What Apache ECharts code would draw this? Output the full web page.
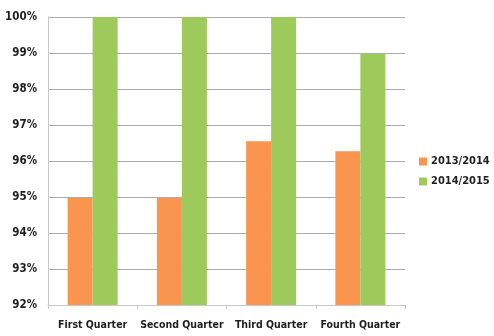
<!DOCTYPE html>
<html>
<head>
<meta charset="utf-8">
<script src="https://cdn.jsdelivr.net/npm/echarts@6/dist/echarts.min.js"></script>
<style>
  html, body { margin: 0; padding: 0; background: #fff; }
  #chart { width: 494px; height: 336px; }
</style>
</head>
<body>
<div id="chart"></div>
<script>
// Quarterly rates, in percent
const quarters = ['First Quarter', 'Second Quarter', 'Third Quarter', 'Fourth Quarter'];
const season2013 = [94.97, 94.97, 96.55, 96.27];
const season2014 = [100, 100, 100, 98.98];
const seriesNames = ['2013/2014', '2014/2015'];

const FONT = '"DejaVu Sans Condensed", "Liberation Sans", sans-serif';
const TEXT = '#1e1e1e';

const chart = echarts.init(document.getElementById('chart'), null, { renderer: 'canvas' });
chart.setOption({
  animation: false,
  backgroundColor: '#ffffff',
  grid: { left: 48, right: 89, top: 17, bottom: 31, containLabel: false },
  legend: {
    orient: 'vertical',
    left: 419,
    top: 156,
    padding: 0,
    itemWidth: 8,
    itemHeight: 8,
    itemGap: 9,
    icon: 'rect',
    textStyle: { fontFamily: FONT, fontWeight: 'bold', fontSize: 11, color: TEXT, padding: [0, 0, 0, -1] },
    data: seriesNames
  },
  xAxis: {
    type: 'category',
    data: quarters,
    axisLine: { lineStyle: { color: '#c8c8c8', width: 1 } },
    axisTick: { show: true, length: 4, lineStyle: { color: '#c8c8c8' } },
    axisLabel: { fontFamily: FONT, fontWeight: 'bold', fontSize: 10.5, color: TEXT, margin: 15, interval: 0 }
  },
  yAxis: {
    type: 'value',
    min: 92,
    max: 100,
    interval: 1,
    axisLine: { show: true, lineStyle: { color: '#c8c8c8', width: 1 } },
    axisTick: { show: false },
    splitLine: { lineStyle: { color: '#ababab', width: 1 } },
    axisLabel: {
      fontFamily: FONT, fontWeight: 'bold', fontSize: 11.5, color: TEXT, margin: 11,
      formatter: v => v + '%'
    }
  },
  series: [
    {
      name: seriesNames[0],
      type: 'bar',
      data: season2013,
      barWidth: 25,
      barGap: '0%',
      itemStyle: { color: '#f9954f' }
    },
    {
      name: seriesNames[1],
      type: 'bar',
      data: season2014,
      barWidth: 25,
      barGap: '0%',
      itemStyle: { color: '#9dca5a' }
    }
  ]
});
</script>
</body>
</html>
